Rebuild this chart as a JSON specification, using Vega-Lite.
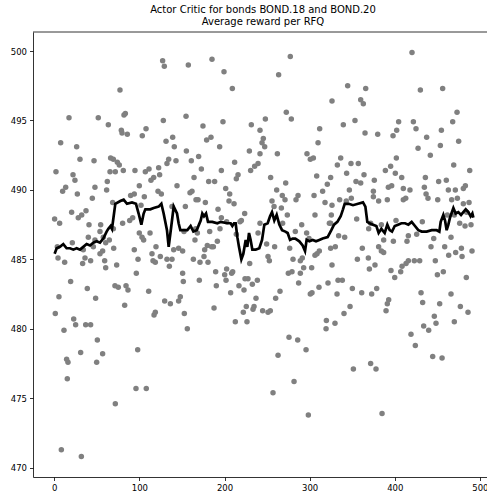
{
"$schema": "https://vega.github.io/schema/vega-lite/v6.json",
"width": 454, "height": 445,
"autosize": {"type": "none"},
"padding": {"left": 33, "top": 32, "right": 0, "bottom": 16},
"background": "white",
"config": {"view": {"stroke": null}, "axis": {"grid": false, "title": null, "labelFont": "DejaVu Sans", "labelFontSize": 8.5, "labelColor": "#000", "tickColor": "#000", "tickSize": 3.5, "tickWidth": 0.8, "domainColor": "#000", "domainWidth": 0.8, "labelPadding": 3}},
"title": {"text": ["Actor Critic for bonds BOND.18 and BOND.20", "Average reward per RFQ"], "font": "DejaVu Sans", "fontSize": 10, "fontWeight": "normal", "color": "#000", "anchor": "middle", "frame": "group", "dx": 3, "dy": 12, "baseline": "bottom", "lineHeight": 11.7, "offset": 7},
"datasets": {
"pts": [
{"x":17.3,"y":495.2},{"x":51.7,"y":495.2},{"x":63.5,"y":494.7},{"x":7.5,"y":493.4},{"x":26.3,"y":493.1},{"x":30.2,"y":492.2},{"x":46.7,"y":492.1},{"x":66.2,"y":492.3},{"x":2.0,"y":491.3},{"x":22.0,"y":491.1},{"x":24.3,"y":490.7},{"x":65.5,"y":491.3},{"x":13.4,"y":490.2},{"x":9.8,"y":489.9},{"x":47.8,"y":490.2},{"x":62.3,"y":490.6},{"x":27.1,"y":489.7},{"x":61.5,"y":490.0},{"x":44.7,"y":489.4},{"x":20.4,"y":488.4},{"x":37.3,"y":488.5},{"x":32.2,"y":488.2},{"x":28.2,"y":488.0},{"x":0.4,"y":487.9},{"x":6.3,"y":487.6},{"x":40.8,"y":487.5},{"x":54.5,"y":487.5},{"x":53.7,"y":487.0},{"x":57.6,"y":486.6},{"x":40.0,"y":486.6},{"x":21.2,"y":486.2},{"x":64.7,"y":486.4},{"x":47.8,"y":486.4},{"x":3.6,"y":485.9},{"x":60.4,"y":486.2},{"x":34.1,"y":485.7},{"x":45.9,"y":485.9},{"x":56.8,"y":485.6},{"x":53.7,"y":485.4},{"x":4.4,"y":485.1},{"x":12.2,"y":484.8},{"x":36.1,"y":485.1},{"x":33.3,"y":484.7},{"x":42.7,"y":484.9},{"x":59.2,"y":484.9},{"x":60.4,"y":484.4},{"x":19.2,"y":483.4},{"x":38.8,"y":482.9},{"x":5.5,"y":482.3},{"x":48.6,"y":482.2},{"x":1.2,"y":481.1},{"x":22.8,"y":480.7},{"x":25.1,"y":480.3},{"x":11.4,"y":479.9},{"x":36.9,"y":480.3},{"x":42.7,"y":480.3},{"x":50.6,"y":479.2},{"x":31.0,"y":478.3},{"x":56.8,"y":478.2},{"x":14.5,"y":477.8},{"x":16.1,"y":477.6},{"x":49.8,"y":477.6},{"x":15.3,"y":476.4},{"x":8.3,"y":471.3},{"x":31.8,"y":470.8},
{"x":127.3,"y":499.3},{"x":129.3,"y":498.9},{"x":157.5,"y":499.0},{"x":77.2,"y":497.2},{"x":83.5,"y":495.5},{"x":81.9,"y":495.4},{"x":128.1,"y":495.0},{"x":154.8,"y":495.3},{"x":78.8,"y":494.3},{"x":79.6,"y":494.1},{"x":85.8,"y":494.0},{"x":107.8,"y":494.4},{"x":103.4,"y":493.9},{"x":139.1,"y":493.8},{"x":131.3,"y":493.5},{"x":141.0,"y":493.1},{"x":155.2,"y":492.8},{"x":69.4,"y":492.2},{"x":74.1,"y":492.0},{"x":76.4,"y":491.8},{"x":71.7,"y":491.3},{"x":81.1,"y":491.4},{"x":94.8,"y":491.4},{"x":107.0,"y":491.3},{"x":111.3,"y":491.5},{"x":122.6,"y":491.6},{"x":134.4,"y":492.2},{"x":132.4,"y":491.9},{"x":143.0,"y":492.1},{"x":123.8,"y":491.1},{"x":116.8,"y":490.9},{"x":113.6,"y":490.7},{"x":99.9,"y":490.3},{"x":144.2,"y":490.3},{"x":89.7,"y":489.6},{"x":94.0,"y":489.7},{"x":105.8,"y":489.5},{"x":121.9,"y":489.9},{"x":125.8,"y":489.7},{"x":68.6,"y":489.1},{"x":101.9,"y":488.9},{"x":138.3,"y":488.8},{"x":154.0,"y":488.8},{"x":80.3,"y":487.6},{"x":88.6,"y":487.8},{"x":92.1,"y":488.0},{"x":69.4,"y":487.2},{"x":99.9,"y":486.9},{"x":103.1,"y":486.6},{"x":105.0,"y":486.4},{"x":112.5,"y":486.9},{"x":152.4,"y":487.0},{"x":69.8,"y":485.8},{"x":94.0,"y":485.7},{"x":119.5,"y":485.9},{"x":114.8,"y":485.4},{"x":124.6,"y":485.2},{"x":140.3,"y":485.7},{"x":146.1,"y":485.8},{"x":150.8,"y":485.6},{"x":98.4,"y":485.0},{"x":116.0,"y":484.9},{"x":118.7,"y":484.8},{"x":132.4,"y":485.0},{"x":138.3,"y":485.0},{"x":73.3,"y":484.6},{"x":96.4,"y":484.0},{"x":135.2,"y":484.5},{"x":150.8,"y":484.0},{"x":151.6,"y":483.4},{"x":71.3,"y":483.1},{"x":75.2,"y":483.0},{"x":84.3,"y":483.1},{"x":86.6,"y":482.8},{"x":110.9,"y":482.7},{"x":82.7,"y":481.7},{"x":129.7,"y":482.0},{"x":136.4,"y":481.8},{"x":146.1,"y":482.0},{"x":148.1,"y":482.3},{"x":118.7,"y":481.2},{"x":117.2,"y":481.0},{"x":152.8,"y":481.1},{"x":156.3,"y":480.0},{"x":98.0,"y":478.5},{"x":96.0,"y":475.7},{"x":108.1,"y":475.7},{"x":71.7,"y":474.6},
{"x":185.3,"y":499.4},{"x":199.4,"y":498.5},{"x":209.2,"y":497.3},{"x":174.7,"y":494.6},{"x":198.2,"y":494.9},{"x":231.5,"y":494.7},{"x":241.7,"y":494.3},{"x":184.1,"y":493.8},{"x":179.0,"y":493.6},{"x":194.3,"y":493.1},{"x":169.6,"y":492.4},{"x":161.0,"y":492.1},{"x":229.2,"y":492.8},{"x":241.7,"y":492.6},{"x":211.9,"y":492.0},{"x":239.4,"y":491.9},{"x":235.4,"y":491.7},{"x":172.8,"y":491.5},{"x":196.3,"y":491.4},{"x":230.7,"y":491.4},{"x":164.2,"y":490.9},{"x":215.9,"y":491.1},{"x":213.9,"y":490.8},{"x":181.4,"y":490.6},{"x":188.4,"y":490.6},{"x":161.8,"y":489.9},{"x":159.5,"y":489.8},{"x":201.4,"y":490.1},{"x":206.1,"y":489.7},{"x":166.5,"y":489.3},{"x":168.9,"y":489.3},{"x":205.3,"y":489.2},{"x":177.5,"y":489.1},{"x":211.2,"y":489.0},{"x":192.4,"y":488.6},{"x":223.7,"y":488.3},{"x":196.3,"y":488.0},{"x":219.8,"y":487.8},{"x":202.5,"y":487.7},{"x":218.2,"y":487.7},{"x":241.7,"y":487.6},{"x":166.1,"y":487.2},{"x":194.7,"y":487.2},{"x":182.6,"y":487.0},{"x":213.9,"y":486.8},{"x":239.4,"y":486.9},{"x":168.1,"y":486.9},{"x":165.3,"y":486.4},{"x":191.6,"y":486.3},{"x":179.8,"y":486.0},{"x":184.9,"y":485.9},{"x":186.9,"y":485.9},{"x":176.7,"y":485.7},{"x":175.9,"y":485.2},{"x":163.4,"y":485.0},{"x":171.2,"y":484.8},{"x":180.6,"y":484.8},{"x":229.6,"y":484.7},{"x":189.6,"y":484.1},{"x":202.5,"y":484.3},{"x":200.2,"y":483.9},{"x":208.4,"y":484.0},{"x":209.6,"y":484.1},{"x":170.4,"y":483.5},{"x":201.8,"y":483.5},{"x":224.1,"y":483.6},{"x":227.6,"y":483.6},{"x":238.6,"y":483.5},{"x":232.7,"y":483.2},{"x":190.4,"y":483.1},{"x":217.0,"y":483.1},{"x":222.9,"y":482.8},{"x":207.2,"y":482.6},{"x":237.0,"y":482.2},{"x":225.6,"y":481.6},{"x":234.7,"y":481.6},{"x":233.5,"y":481.4},{"x":222.1,"y":481.2},{"x":187.7,"y":481.5},{"x":212.7,"y":480.5},{"x":226.4,"y":480.5},
{"x":277.3,"y":499.6},{"x":263.6,"y":498.3},{"x":326.3,"y":496.4},{"x":272.6,"y":495.6},{"x":278.5,"y":495.1},{"x":248.0,"y":495.1},{"x":311.8,"y":494.4},{"x":245.6,"y":493.7},{"x":244.1,"y":493.4},{"x":247.2,"y":493.1},{"x":309.9,"y":493.4},{"x":262.1,"y":492.6},{"x":296.9,"y":492.6},{"x":300.8,"y":492.2},{"x":304.4,"y":492.3},{"x":254.2,"y":490.9},{"x":308.3,"y":491.0},{"x":324.7,"y":490.9},{"x":271.9,"y":490.5},{"x":320.8,"y":490.4},{"x":261.3,"y":490.0},{"x":315.3,"y":489.9},{"x":267.9,"y":489.6},{"x":271.1,"y":489.3},{"x":286.4,"y":489.6},{"x":284.0,"y":489.3},{"x":305.2,"y":489.6},{"x":255.8,"y":489.2},{"x":318.1,"y":489.1},{"x":258.2,"y":488.8},{"x":266.8,"y":488.7},{"x":326.3,"y":488.9},{"x":273.8,"y":488.2},{"x":306.3,"y":488.2},{"x":325.5,"y":488.2},{"x":268.3,"y":487.6},{"x":290.7,"y":487.5},{"x":323.2,"y":487.6},{"x":283.2,"y":487.0},{"x":296.5,"y":486.9},{"x":299.3,"y":486.5},{"x":249.5,"y":486.1},{"x":258.9,"y":485.9},{"x":276.6,"y":485.8},{"x":324.7,"y":485.8},{"x":251.1,"y":485.2},{"x":252.7,"y":484.9},{"x":280.5,"y":485.0},{"x":289.1,"y":484.9},{"x":291.4,"y":485.1},{"x":311.4,"y":485.6},{"x":308.7,"y":485.4},{"x":306.3,"y":485.3},{"x":293.0,"y":484.4},{"x":302.4,"y":484.4},{"x":326.3,"y":484.6},{"x":275.0,"y":484.0},{"x":279.3,"y":484.1},{"x":289.1,"y":484.0},{"x":287.1,"y":483.3},{"x":311.0,"y":483.0},{"x":321.6,"y":483.3},{"x":265.2,"y":482.7},{"x":260.1,"y":482.2},{"x":300.8,"y":482.5},{"x":302.8,"y":482.6},{"x":244.8,"y":481.3},{"x":251.1,"y":481.2},{"x":253.8,"y":481.3},{"x":319.7,"y":480.6},{"x":319.3,"y":480.0},{"x":275.8,"y":479.4},{"x":286.0,"y":479.2},{"x":295.8,"y":478.5},{"x":262.9,"y":478.1},{"x":281.7,"y":476.2},{"x":257.0,"y":475.4},{"x":298.5,"y":473.8},
{"x":344.7,"y":497.5},{"x":365.9,"y":497.3},{"x":360.0,"y":496.5},{"x":363.1,"y":496.2},{"x":339.6,"y":494.7},{"x":353.3,"y":495.0},{"x":404.6,"y":494.9},{"x":402.3,"y":494.3},{"x":365.1,"y":494.1},{"x":380.0,"y":494.0},{"x":398.0,"y":493.9},{"x":336.5,"y":492.3},{"x":332.6,"y":491.8},{"x":348.6,"y":491.9},{"x":357.2,"y":491.9},{"x":401.9,"y":492.3},{"x":395.2,"y":491.7},{"x":389.0,"y":491.4},{"x":400.7,"y":491.2},{"x":343.5,"y":491.2},{"x":363.9,"y":491.1},{"x":408.2,"y":490.9},{"x":354.5,"y":490.6},{"x":360.0,"y":490.5},{"x":376.0,"y":490.7},{"x":396.4,"y":490.3},{"x":392.5,"y":490.2},{"x":410.1,"y":490.1},{"x":346.7,"y":490.0},{"x":374.9,"y":489.9},{"x":335.3,"y":489.3},{"x":349.0,"y":489.4},{"x":374.9,"y":489.5},{"x":381.1,"y":489.2},{"x":391.3,"y":489.3},{"x":410.1,"y":489.3},{"x":343.1,"y":489.2},{"x":355.3,"y":487.9},{"x":324.7,"y":487.6},{"x":371.7,"y":487.6},{"x":384.3,"y":487.5},{"x":401.5,"y":487.8},{"x":334.1,"y":486.7},{"x":341.2,"y":486.6},{"x":369.4,"y":487.2},{"x":387.0,"y":486.4},{"x":398.4,"y":486.3},{"x":330.2,"y":485.9},{"x":361.9,"y":485.8},{"x":381.1,"y":485.9},{"x":384.3,"y":485.6},{"x":387.0,"y":485.5},{"x":356.1,"y":485.0},{"x":369.0,"y":485.1},{"x":370.2,"y":484.3},{"x":376.8,"y":484.6},{"x":395.6,"y":484.2},{"x":400.0,"y":483.7},{"x":407.0,"y":484.1},{"x":408.6,"y":484.5},{"x":333.4,"y":483.5},{"x":338.4,"y":483.5},{"x":350.2,"y":482.9},{"x":332.2,"y":482.5},{"x":361.2,"y":482.6},{"x":372.9,"y":482.5},{"x":378.8,"y":482.9},{"x":392.9,"y":482.1},{"x":391.3,"y":481.8},{"x":389.8,"y":481.3},{"x":347.5,"y":481.6},{"x":340.4,"y":481.1},{"x":329.8,"y":480.4},{"x":351.4,"y":477.1},{"x":371.7,"y":477.5},{"x":378.0,"y":477.1},{"x":385.1,"y":473.9},
{"x":420.3,"y":499.9},{"x":430.1,"y":497.2},{"x":456.3,"y":497.3},{"x":473.2,"y":495.6},{"x":421.9,"y":494.9},{"x":425.0,"y":494.4},{"x":468.1,"y":494.9},{"x":454.8,"y":494.3},{"x":437.5,"y":493.8},{"x":475.1,"y":493.5},{"x":427.4,"y":493.0},{"x":453.6,"y":493.2},{"x":441.8,"y":492.5},{"x":469.3,"y":491.8},{"x":488.1,"y":491.4},{"x":436.0,"y":490.9},{"x":417.9,"y":490.0},{"x":434.8,"y":490.2},{"x":451.6,"y":490.6},{"x":460.6,"y":490.7},{"x":483.0,"y":490.3},{"x":480.6,"y":490.1},{"x":412.9,"y":489.4},{"x":436.8,"y":489.7},{"x":439.1,"y":489.4},{"x":463.0,"y":490.0},{"x":471.2,"y":490.0},{"x":466.9,"y":489.3},{"x":473.6,"y":489.4},{"x":450.5,"y":489.3},{"x":480.6,"y":489.0},{"x":487.3,"y":489.1},{"x":484.5,"y":488.4},{"x":461.8,"y":488.2},{"x":470.0,"y":488.2},{"x":432.4,"y":487.7},{"x":476.3,"y":487.6},{"x":482.6,"y":487.4},{"x":489.6,"y":487.5},{"x":416.0,"y":486.7},{"x":425.8,"y":486.8},{"x":445.8,"y":486.5},{"x":414.4,"y":486.3},{"x":466.1,"y":486.6},{"x":442.6,"y":485.9},{"x":458.7,"y":485.9},{"x":478.3,"y":485.8},{"x":471.6,"y":485.5},{"x":463.4,"y":485.3},{"x":479.1,"y":485.2},{"x":490.8,"y":485.6},{"x":413.3,"y":484.7},{"x":416.0,"y":484.9},{"x":423.0,"y":484.9},{"x":429.3,"y":484.9},{"x":447.7,"y":484.9},{"x":450.1,"y":483.9},{"x":457.1,"y":484.1},{"x":484.1,"y":483.7},{"x":430.9,"y":482.6},{"x":432.8,"y":481.9},{"x":452.8,"y":481.8},{"x":466.1,"y":482.5},{"x":477.1,"y":481.6},{"x":486.1,"y":481.2},{"x":446.5,"y":480.9},{"x":448.5,"y":480.4},{"x":470.0,"y":480.5},{"x":434.0,"y":480.2},{"x":439.9,"y":479.9},{"x":419.1,"y":479.6},{"x":424.2,"y":478.8},{"x":444.6,"y":478.0},{"x":455.6,"y":477.9}
],
"avg": [
{"x":0.4,"y":485.4},{"x":2.8,"y":485.8},{"x":6.7,"y":485.9},{"x":10.6,"y":486.1},{"x":14.5,"y":485.8},{"x":18.5,"y":485.8},{"x":22.4,"y":485.7},{"x":26.3,"y":485.8},{"x":30.2,"y":485.7},{"x":34.1,"y":485.9},{"x":38.0,"y":486.1},{"x":42.0,"y":486.0},{"x":45.9,"y":486.2},{"x":49.8,"y":486.3},{"x":53.7,"y":486.2},{"x":57.6,"y":486.5},{"x":61.5,"y":487.0},{"x":63.5,"y":487.2},{"x":66.2,"y":487.4},{"x":67.8,"y":487.2},{"x":71.7,"y":489.0},{"x":77.6,"y":489.2},{"x":81.5,"y":489.3},{"x":85.4,"y":489.0},{"x":91.3,"y":489.1},{"x":96.0,"y":489.0},{"x":99.1,"y":488.3},{"x":102.3,"y":487.5},{"x":105.0,"y":488.3},{"x":107.0,"y":488.6},{"x":110.1,"y":488.6},{"x":112.8,"y":488.6},{"x":116.8,"y":488.7},{"x":122.6,"y":488.8},{"x":125.8,"y":489.0},{"x":128.5,"y":488.3},{"x":132.4,"y":487.1},{"x":134.4,"y":485.9},{"x":137.5,"y":487.4},{"x":140.3,"y":488.8},{"x":144.2,"y":488.3},{"x":146.1,"y":487.6},{"x":148.1,"y":487.1},{"x":152.0,"y":487.1},{"x":156.3,"y":487.1},{"x":160.2,"y":487.4},{"x":163.4,"y":487.0},{"x":167.3,"y":487.1},{"x":170.0,"y":487.5},{"x":172.0,"y":487.8},{"x":173.9,"y":488.3},{"x":175.9,"y":488.1},{"x":178.3,"y":488.3},{"x":180.6,"y":487.7},{"x":185.7,"y":487.7},{"x":191.6,"y":487.6},{"x":195.5,"y":487.7},{"x":203.3,"y":487.6},{"x":207.2,"y":487.6},{"x":209.2,"y":487.4},{"x":211.2,"y":487.6},{"x":213.1,"y":487.6},{"x":215.1,"y":486.6},{"x":217.0,"y":485.9},{"x":219.8,"y":485.0},{"x":222.1,"y":485.4},{"x":224.9,"y":486.4},{"x":226.8,"y":485.9},{"x":228.8,"y":486.9},{"x":230.7,"y":486.4},{"x":232.7,"y":485.7},{"x":236.6,"y":485.7},{"x":240.9,"y":485.8},{"x":244.1,"y":486.4},{"x":246.8,"y":487.5},{"x":250.7,"y":487.6},{"x":253.5,"y":488.1},{"x":255.8,"y":488.4},{"x":258.5,"y":487.8},{"x":261.3,"y":488.2},{"x":264.4,"y":487.5},{"x":267.6,"y":487.1},{"x":271.5,"y":487.0},{"x":274.2,"y":486.9},{"x":277.0,"y":486.4},{"x":280.1,"y":486.5},{"x":283.2,"y":486.5},{"x":287.9,"y":486.3},{"x":291.8,"y":486.0},{"x":294.6,"y":485.6},{"x":296.5,"y":486.4},{"x":299.7,"y":486.3},{"x":303.6,"y":486.4},{"x":307.5,"y":486.3},{"x":311.4,"y":486.4},{"x":315.3,"y":486.5},{"x":321.2,"y":486.6},{"x":325.5,"y":487.1},{"x":328.7,"y":487.5},{"x":332.6,"y":487.7},{"x":336.5,"y":488.1},{"x":339.2,"y":488.6},{"x":341.2,"y":489.0},{"x":345.9,"y":489.0},{"x":351.0,"y":488.9},{"x":356.9,"y":489.0},{"x":362.7,"y":489.1},{"x":365.5,"y":488.8},{"x":367.8,"y":487.7},{"x":370.6,"y":487.6},{"x":374.5,"y":487.5},{"x":378.4,"y":487.4},{"x":381.1,"y":486.9},{"x":384.3,"y":487.2},{"x":388.2,"y":486.9},{"x":391.3,"y":487.5},{"x":394.1,"y":487.1},{"x":396.8,"y":487.0},{"x":400.0,"y":487.4},{"x":403.9,"y":487.5},{"x":407.8,"y":487.6},{"x":412.1,"y":487.6},{"x":416.0,"y":487.5},{"x":419.9,"y":487.7},{"x":423.8,"y":487.4},{"x":427.7,"y":487.1},{"x":431.7,"y":487.0},{"x":437.5,"y":487.0},{"x":443.4,"y":487.1},{"x":449.3,"y":487.1},{"x":452.4,"y":487.0},{"x":454.0,"y":487.7},{"x":457.1,"y":488.2},{"x":459.1,"y":487.8},{"x":461.0,"y":487.1},{"x":463.0,"y":487.5},{"x":464.9,"y":488.0},{"x":468.9,"y":488.7},{"x":471.6,"y":488.3},{"x":474.7,"y":488.4},{"x":477.9,"y":488.2},{"x":480.6,"y":488.4},{"x":483.4,"y":488.6},{"x":486.5,"y":488.4},{"x":489.2,"y":488.1},{"x":491.2,"y":488.3},{"x":492.4,"y":488.0}
],
"frame": [{"top": 501.37}]
},
"layer": [
{"data": {"name": "pts"}, "mark": {"type": "circle", "color": "#808080", "opacity": 1, "size": 30},
 "encoding": {
  "x": {"field": "x", "type": "quantitative", "scale": {"domain": [-25, 508.4], "nice": false, "zero": false}, "axis": {"orient": "bottom", "values": [0,100,200,300,400,500]}},
  "y": {"field": "y", "type": "quantitative", "scale": {"domain": [469.33, 501.37], "nice": false, "zero": false}, "axis": {"values": [470,475,480,485,490,495,500]}}
 }},
{"data": {"name": "avg"}, "mark": {"type": "line", "color": "#000", "strokeWidth": 2.7},
 "encoding": {
  "x": {"field": "x", "type": "quantitative"},
  "y": {"field": "y", "type": "quantitative"}
 }},
{"data": {"name": "frame"}, "mark": {"type": "rule", "color": "#000", "strokeWidth": 0.8},
 "encoding": {"y": {"field": "top", "type": "quantitative"}}}
]
}
